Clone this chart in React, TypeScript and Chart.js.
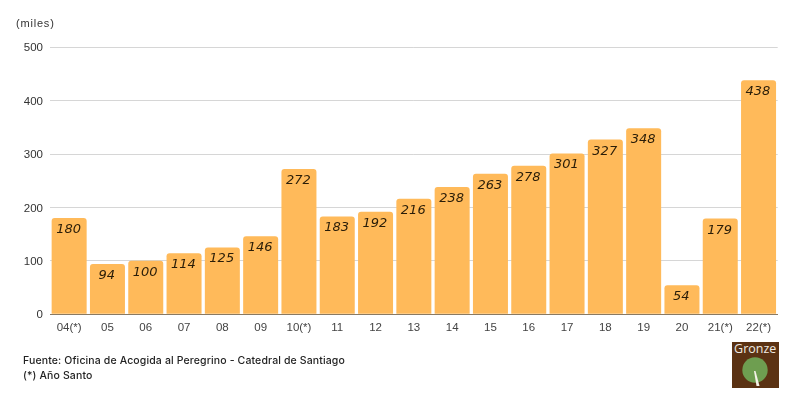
import React, { useEffect, useRef } from "react";
import { Chart, registerables } from "chart.js";

Chart.register(...registerables);

const categories = ["04(*)", "05", "06", "07", "08", "09", "10(*)", "11", "12", "13", "14", "15", "16", "17", "18", "19", "20", "21(*)", "22(*)"];
const values = [180, 94, 100, 114, 125, 146, 272, 183, 192, 216, 238, 263, 278, 301, 327, 348, 54, 179, 438];
const unitLabel = "(miles)";
const sourceLines = ["Fuente: Oficina de Acogida al Peregrino - Catedral de Santiago", "(*) Año Santo"];
const logoText = "Gronze";

const valueLabels = {
  id: "valueLabels",
  afterDatasetsDraw(chart: any) {
    const { ctx } = chart;
    const meta = chart.getDatasetMeta(0);
    ctx.save();
    ctx.font = "italic 13px 'DejaVu Sans'";
    ctx.fillStyle = "#2a1d08";
    ctx.textAlign = "center";
    ctx.textBaseline = "middle";
    meta.data.forEach((bar: any, i: number) => {
      ctx.fillText(String(values[i]), bar.x - 0.6, bar.y + 11.6);
    });
    ctx.restore();
  },
};

export default function App() {
  const ref = useRef<HTMLCanvasElement>(null);
  useEffect(() => {
    const chart = new Chart(ref.current!, {
      type: "bar",
      data: {
        labels: categories,
        datasets: [
          {
            data: values,
            backgroundColor: "#FFBA5A",
            borderRadius: { topLeft: 3, topRight: 3 },
            borderSkipped: "bottom",
            categoryPercentage: 1,
            barPercentage: 0.914,
          },
        ],
      },
      options: {
        animation: false,
        responsive: false,
        devicePixelRatio: 1,
        layout: { padding: { left: 0, right: 22.3, top: 47.2, bottom: 0 } },
        plugins: { legend: { display: false }, tooltip: { enabled: false } },
        scales: {
          x: {
            afterFit: (s: any) => { s.height = 85.8; },
            grid: { display: false, drawTicks: false },
            border: { color: "#8a7a62", width: 1 },
            ticks: { color: "#444", font: { family: "'Liberation Sans'", size: 11.5 }, padding: 7, maxRotation: 0, autoSkip: false },
          },
          y: {
            min: 0,
            max: 500,
            afterFit: (s: any) => { s.width = 50; },
            grid: { color: "#d6d6d6", lineWidth: 1, drawTicks: false },
            border: { display: false },
            ticks: { stepSize: 100, color: "#333", font: { family: "'Liberation Sans'", size: 11.5 }, padding: 7, labelOffset: 1 },
          },
        },
      },
      plugins: [valueLabels],
    } as any);
    return () => chart.destroy();
  }, []);

  const noteStyle: React.CSSProperties = {
    position: "absolute",
    left: 23,
    fontFamily: "Inter, sans-serif",
    fontWeight: 500,
    fontSize: 10.5,
    letterSpacing: 0.13,
    color: "#222",
    whiteSpace: "nowrap",
    lineHeight: "14px",
  };

  return (
    <div style={{ position: "absolute", left: 0, top: 0, width: 800, height: 400, background: "#fff", overflow: "hidden" }}>
      <canvas ref={ref} width={800} height={400} style={{ display: "block", position: "absolute", left: 0, top: 0 }} />
      <div style={{ ...noteStyle, left: 16, top: 16, fontFamily: "'Liberation Sans'", fontWeight: 400, fontSize: 11, letterSpacing: 0.8, color: "#333" }}>{unitLabel}</div>
      <div style={{ ...noteStyle, top: 354 }}>{sourceLines[0]}</div>
      <div style={{ ...noteStyle, top: 368.5 }}>{sourceLines[1]}</div>
      <div style={{ position: "absolute", left: 732, top: 342, width: 46.5, height: 46, background: "#5B3213", overflow: "hidden" }}>
        <div style={{ position: "absolute", left: 0, top: -1, width: 46.5, textAlign: "center", color: "#f0ebe3", fontFamily: "'Open Sans'", fontSize: 12.5, lineHeight: "15px" }}>{logoText}</div>
        <svg width={46} height={46} style={{ position: "absolute", left: 0, top: 0 }}>
          <circle cx={23} cy={28} r={12.7} fill="#6E9E50" />
          <path d="M22 29 L23.5 29 L27.5 44 L24.5 44 Z" fill="#f5f2e8" />
        </svg>
      </div>
    </div>
  );
}
